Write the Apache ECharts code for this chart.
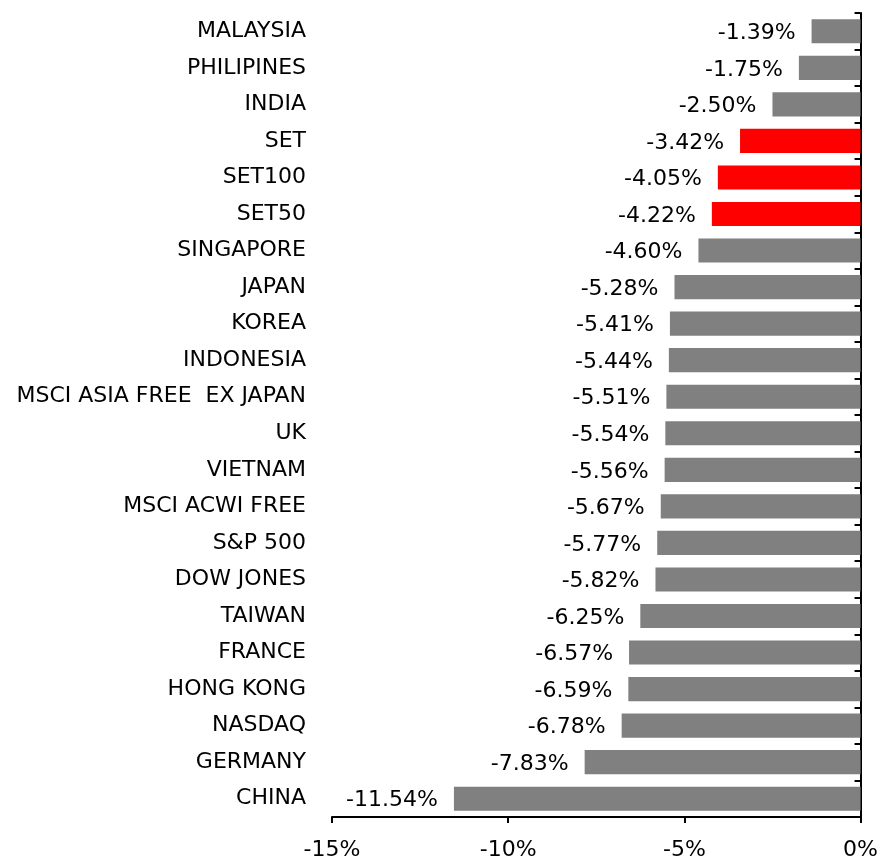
<!DOCTYPE html>
<html>
<head>
<meta charset="utf-8">
<script src="https://cdn.jsdelivr.net/npm/echarts@6/dist/echarts.min.js"></script>
<style>
  html, body { margin: 0; padding: 0; background: #fff; }
  #chart { width: 881px; height: 861px; }
</style>
</head>
<body>
<div id="chart"></div>
<script>
  // top to bottom as in the picture
  const markets = [
    "MALAYSIA", "PHILIPINES", "INDIA", "SET", "SET100", "SET50", "SINGAPORE",
    "JAPAN", "KOREA", "INDONESIA", "MSCI ASIA FREE  EX JAPAN", "UK", "VIETNAM",
    "MSCI ACWI FREE", "S&P 500", "DOW JONES", "TAIWAN", "FRANCE", "HONG KONG",
    "NASDAQ", "GERMANY", "CHINA"
  ];
  const changes = [
    -1.39, -1.75, -2.50, -3.42, -4.05, -4.22, -4.60,
    -5.28, -5.41, -5.44, -5.51, -5.54, -5.56,
    -5.67, -5.77, -5.82, -6.25, -6.57, -6.59,
    -6.78, -7.83, -11.54
  ];
  const thaiIndices = ["SET", "SET100", "SET50"];
  const xTicks = [-15, -10, -5, 0];

  const font = "DejaVu Sans";
  const cats = markets.slice().reverse();
  const vals = changes.slice().reverse();

  const chart = echarts.init(document.getElementById("chart"), null, { renderer: "canvas" });
  chart.setOption({
    animation: false,
    textStyle: { fontFamily: font },
    grid: { left: 332, right: 19, top: 13, bottom: 44 },
    xAxis: {
      type: "value",
      min: xTicks[0],
      max: xTicks[xTicks.length - 1],
      interval: 5,
      splitLine: { show: false },
      axisLine: { show: true, onZero: false, lineStyle: { color: "#000", width: 2 } },
      axisTick: { show: true, length: 6, lineStyle: { color: "#000", width: 2 } },
      axisLabel: {
        color: "#000", fontSize: 22, fontFamily: font, margin: 22,
        formatter: (v) => v + "%"
      }
    },
    yAxis: [
      {
        type: "category",
        data: cats,
        position: "left",
        axisLine: { show: false },
        axisTick: { show: false },
        axisLabel: { color: "#000", fontSize: 22, fontFamily: font, margin: 26 }
      },
      {
        type: "category",
        data: cats,
        position: "right",
        axisLine: { show: true, lineStyle: { color: "#000", width: 2 } },
        axisTick: { show: true, inside: true, length: 6, lineStyle: { color: "#000", width: 2 } },
        axisLabel: { show: false }
      }
    ],
    series: [
      {
        type: "bar",
        yAxisIndex: 0,
        barCategoryGap: "34%",
        data: vals.map((v, i) => ({
          value: v,
          itemStyle: { color: thaiIndices.includes(cats[i]) ? "#ff0000" : "#808080" }
        })),
        label: {
          show: true,
          position: "left",
          distance: 16,
          offset: [0, 2],
          color: "#000",
          fontSize: 22,
          fontFamily: font,
          formatter: (p) => p.value.toFixed(2) + "%"
        }
      }
    ]
  });
</script>
</body>
</html>
